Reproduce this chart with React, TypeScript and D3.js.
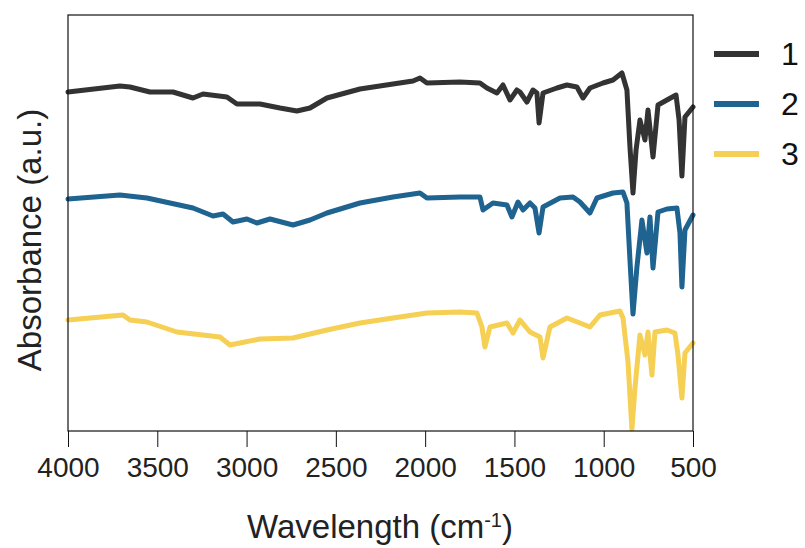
import React, { useEffect, useRef } from "react";
import * as d3 from "d3";

// [wavenumber (cm-1), absorbance (a.u., offset per sample)]
const sample1: [number, number][] = [
  [4000, 3.39], [3709, 3.45], [3653, 3.44], [3541, 3.39], [3412, 3.39], [3300, 3.33],
  [3244, 3.37], [3110, 3.34], [3054, 3.27], [2925, 3.27], [2813, 3.23], [2718, 3.2],
  [2645, 3.23], [2550, 3.33], [2365, 3.42], [2180, 3.47], [2068, 3.5], [2029, 3.53],
  [1990, 3.48], [1805, 3.49], [1693, 3.48], [1654, 3.43], [1598, 3.38], [1564, 3.46],
  [1525, 3.31], [1486, 3.41], [1469, 3.39], [1430, 3.29], [1396, 3.41], [1374, 3.38],
  [1362, 3.08], [1340, 3.38], [1262, 3.43], [1206, 3.46], [1150, 3.44], [1116, 3.33],
  [1077, 3.43], [1004, 3.48], [948, 3.51], [898, 3.58], [870, 3.41], [853, 2.84],
  [836, 2.38], [819, 2.81], [797, 3.11], [769, 2.91], [752, 3.21], [724, 2.74],
  [696, 3.26], [646, 3.31], [595, 3.36], [578, 3.11], [562, 2.55], [545, 3.14], [500, 3.24],
];

const sample2: [number, number][] = [
  [4000, 2.32], [3709, 2.36], [3558, 2.33], [3300, 2.23], [3188, 2.15], [3132, 2.17],
  [3076, 2.09], [2998, 2.12], [2942, 2.08], [2869, 2.12], [2740, 2.06], [2645, 2.11],
  [2550, 2.18], [2365, 2.28], [2180, 2.34], [2029, 2.38], [1990, 2.33], [1805, 2.34],
  [1693, 2.34], [1676, 2.21], [1620, 2.28], [1542, 2.26], [1514, 2.14], [1480, 2.29],
  [1452, 2.21], [1413, 2.28], [1385, 2.23], [1362, 1.98], [1340, 2.24], [1245, 2.33],
  [1172, 2.34], [1133, 2.29], [1077, 2.18], [1038, 2.33], [948, 2.38], [892, 2.39],
  [870, 2.28], [853, 1.71], [836, 1.17], [814, 1.64], [786, 2.11], [758, 1.78],
  [741, 2.14], [724, 1.63], [696, 2.19], [646, 2.22], [590, 2.23], [573, 1.98],
  [562, 1.44], [545, 2.01], [500, 2.16],
];

const sample3: [number, number][] = [
  [4000, 1.11], [3692, 1.16], [3653, 1.11], [3558, 1.09], [3390, 0.99], [3149, 0.94],
  [3093, 0.86], [2925, 0.92], [2740, 0.93], [2550, 1.01], [2365, 1.08], [2180, 1.13],
  [1990, 1.18], [1805, 1.19], [1710, 1.18], [1682, 1.04], [1665, 0.84], [1637, 1.04],
  [1542, 1.08], [1508, 0.98], [1469, 1.11], [1413, 0.99], [1357, 0.94], [1340, 0.73],
  [1301, 1.04], [1206, 1.13], [1133, 1.08], [1077, 1.04], [1021, 1.16], [909, 1.2],
  [892, 1.13], [864, 0.69], [842, 0.02], [825, 0.43], [797, 0.96], [769, 0.76],
  [752, 0.99], [730, 0.56], [713, 0.99], [646, 1.01], [601, 0.98], [584, 0.76],
  [562, 0.33], [545, 0.78], [500, 0.88],
];

const seriesNames = ["1", "2", "3"];
const seriesColors = ["#333333", "#1f6391", "#f6cf55"];
const xTicks = [4000, 3500, 3000, 2500, 2000, 1500, 1000, 500];

const W = 805;
const H = 548;
const margin = { top: 15, right: 112, bottom: 117, left: 68 };
const font = "Arial, 'Liberation Sans', sans-serif";

export default function App() {
  const axisRef = useRef<SVGGElement>(null);
  const iw = W - margin.left - margin.right;
  const ih = H - margin.top - margin.bottom;

  const x = d3.scaleLinear().domain([4000, 500]).range([0, iw]);
  const y = d3.scaleLinear().domain([0, 4.16]).range([ih, 0]);
  const line = d3
    .line<[number, number]>()
    .x((d) => x(d[0]))
    .y((d) => y(d[1]))
    .curve(d3.curveLinear);

  const all = [sample1, sample2, sample3];

  useEffect(() => {
    const g = d3.select(axisRef.current);
    g.selectAll("*").remove();
    g.call(d3.axisBottom(x).tickValues(xTicks).tickSize(16).tickPadding(10).tickFormat(d3.format("d")));
    g.select(".domain").remove();
    g.selectAll(".tick line").attr("stroke", "#111");
    g.selectAll(".tick text")
      .attr("font-family", font)
      .attr("font-size", 28)
      .attr("fill", "#222");
  }, []);

  return (
    <svg width={W} height={H} style={{ position: "absolute", left: 0, top: 0, background: "#fff" }}>
      <g transform={`translate(${margin.left},${margin.top})`}>
        {all.map((s, i) => (
          <path
            key={i}
            d={line(s) || ""}
            fill="none"
            stroke={seriesColors[i]}
            strokeWidth={5}
            strokeLinejoin="round"
            strokeLinecap="round"
          />
        ))}
        <rect x={0} y={0} width={iw} height={ih} fill="none" stroke="#111" strokeWidth={1.2} />
        <g ref={axisRef} transform={`translate(0,${ih})`} />
      </g>

      <text
        x={380}
        y={538}
        textAnchor="middle"
        fontFamily={font}
        fontSize={33}
        fill="#222"
      >
        Wavelength (cm
        <tspan baselineShift="super" fontSize={20}>-1</tspan>)
      </text>
      <text
        transform="translate(41,240) rotate(-90)"
        textAnchor="middle"
        fontFamily={font}
        fontSize={33}
        fill="#222"
      >
        Absorbance (a.u.)
      </text>

      {seriesNames.map((n, i) => (
        <g key={n} transform={`translate(714,${54 + i * 50})`}>
          <line x1={0} x2={45} y1={0} y2={0} stroke={seriesColors[i]} strokeWidth={6} />
          <text x={67} y={11} fontFamily={font} fontSize={32} fill="#111">
            {n}
          </text>
        </g>
      ))}
    </svg>
  );
}
